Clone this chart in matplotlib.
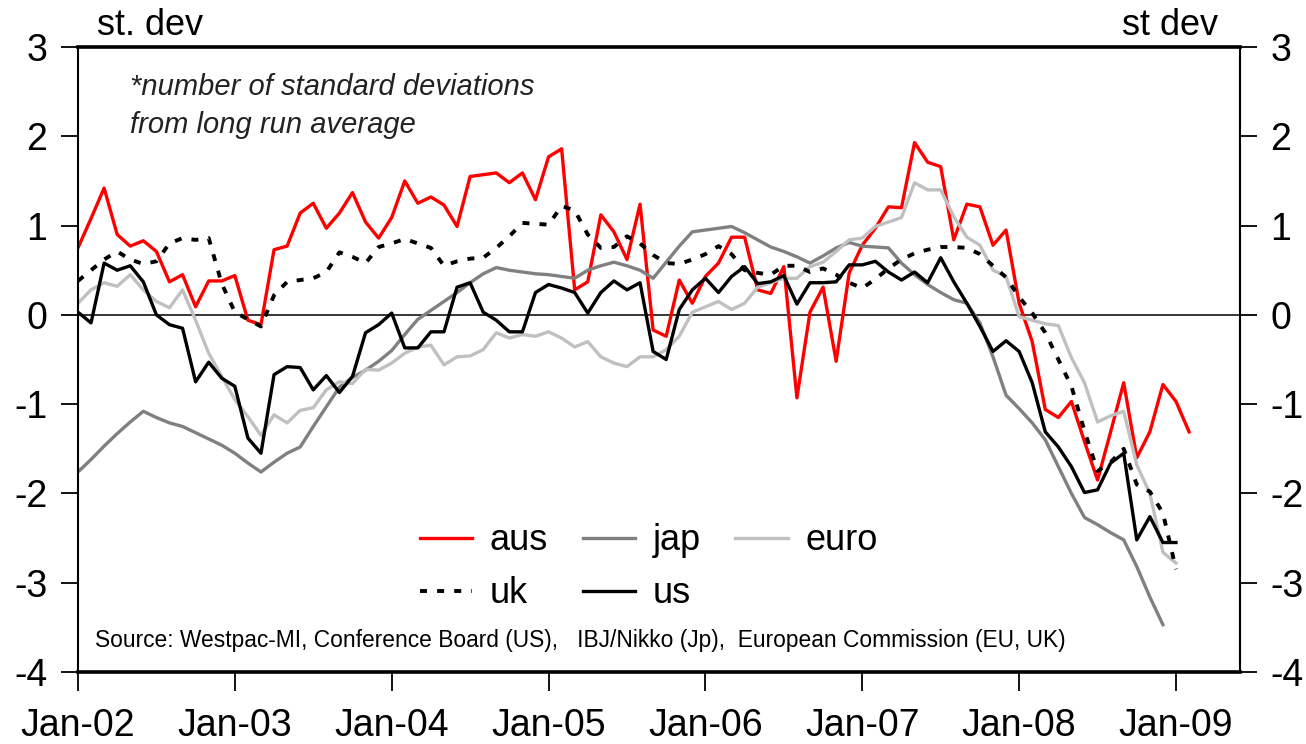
import matplotlib
matplotlib.use("Agg")
import matplotlib.pyplot as plt
import numpy as np

plt.rcParams['font.family'] = ['Liberation Sans', 'DejaVu Sans']
plt.rcParams['axes.unicode_minus'] = False

# month index 0 = Jan-02
aus = [0.75, 1.08, 1.42, 0.90, 0.77, 0.83, 0.71, 0.37, 0.45, 0.09,
       0.38, 0.38, 0.44, -0.06, -0.11, 0.73, 0.77, 1.14, 1.25, 0.97,
       1.14, 1.37, 1.04, 0.86, 1.09, 1.50, 1.25, 1.32, 1.23, 0.99,
       1.55, 1.57, 1.59, 1.48, 1.59, 1.29, 1.77, 1.86, 0.28, 0.37,
       1.12, 0.93, 0.62, 1.24, -0.17, -0.24, 0.39, 0.13, 0.43, 0.58,
       0.87, 0.87, 0.28, 0.24, 0.54, -0.93, 0.03, 0.31, -0.52, 0.47,
       0.78, 0.97, 1.21, 1.20, 1.93, 1.71, 1.66, 0.84, 1.24, 1.21,
       0.78, 0.95, 0.13, -0.30, -1.06, -1.15, -0.97, -1.42, -1.85, -1.31,
       -0.76, -1.60, -1.31, -0.78, -0.97, -1.31]

jap = [-1.76, -1.62, -1.47, -1.33, -1.20, -1.08, -1.15, -1.21, -1.25, -1.32,
       -1.39, -1.46, -1.55, -1.66, -1.76, -1.65, -1.55, -1.48, -1.25, -1.03,
       -0.81, -0.70, -0.62, -0.52, -0.40, -0.22, -0.05, 0.05, 0.15, 0.25,
       0.36, 0.46, 0.53, 0.50, 0.48, 0.46, 0.45, 0.43, 0.41, 0.50,
       0.55, 0.59, 0.55, 0.50, 0.41, 0.59, 0.77, 0.93, 0.95, 0.97,
       0.99, 0.92, 0.84, 0.76, 0.71, 0.65, 0.58, 0.66, 0.75, 0.81,
       0.77, 0.76, 0.75, 0.58, 0.45, 0.34, 0.25, 0.17, 0.13, -0.09,
       -0.47, -0.90, -1.05, -1.21, -1.40, -1.70, -2.00, -2.27, -2.35, -2.44,
       -2.52, -2.82, -3.16, -3.47]

euro = [0.13, 0.28, 0.36, 0.32, 0.45, 0.28, 0.15, 0.08, 0.28, -0.06,
        -0.43, -0.69, -0.95, -1.14, -1.35, -1.12, -1.21, -1.07, -1.04, -0.84,
        -0.75, -0.77, -0.61, -0.62, -0.54, -0.43, -0.36, -0.34, -0.56, -0.47,
        -0.46, -0.39, -0.20, -0.26, -0.22, -0.24, -0.19, -0.26, -0.36, -0.30,
        -0.47, -0.54, -0.58, -0.47, -0.47, -0.39, -0.24, 0.03, 0.09, 0.15,
        0.06, 0.13, 0.31, 0.36, 0.41, 0.41, 0.54, 0.59, 0.71, 0.84,
        0.86, 0.99, 1.04, 1.09, 1.48, 1.40, 1.40, 1.10, 0.87, 0.78,
        0.50, 0.43, -0.02, -0.06, -0.10, -0.12, -0.48, -0.76, -1.20, -1.13,
        -1.08, -1.68, -2.00, -2.66, -2.78]

uk = [0.38, 0.50, 0.62, 0.71, 0.62, 0.57, 0.60, 0.80, 0.86, 0.84,
      0.86, 0.35, 0.03, -0.05, -0.13, 0.22, 0.37, 0.39, 0.41, 0.48,
      0.70, 0.65, 0.58, 0.76, 0.80, 0.85, 0.80, 0.75, 0.55, 0.60,
      0.63, 0.64, 0.75, 0.88, 1.03, 1.02, 1.01, 1.22, 1.17, 0.90,
      0.75, 0.76, 0.88, 0.80, 0.67, 0.58, 0.57, 0.62, 0.68, 0.77,
      0.68, 0.50, 0.47, 0.45, 0.55, 0.55, 0.48, 0.52, 0.45, 0.36,
      0.30, 0.40, 0.52, 0.62, 0.69, 0.73, 0.76, 0.76, 0.75, 0.68,
      0.55, 0.42, 0.20, 0.02, -0.20, -0.50, -0.80, -1.30, -1.75, -1.65,
      -1.50, -1.90, -1.98, -2.22, -2.85]

us = [0.03, -0.09, 0.58, 0.50, 0.55, 0.37, 0.00, -0.11, -0.15, -0.75,
      -0.53, -0.71, -0.80, -1.38, -1.55, -0.67, -0.58, -0.59, -0.84, -0.68,
      -0.87, -0.69, -0.20, -0.11, 0.02, -0.37, -0.37, -0.19, -0.19, 0.31,
      0.36, 0.03, -0.06, -0.19, -0.19, 0.25, 0.34, 0.30, 0.25, 0.02,
      0.25, 0.38, 0.28, 0.36, -0.41, -0.50, 0.06, 0.28, 0.41, 0.25,
      0.43, 0.54, 0.35, 0.37, 0.44, 0.12, 0.36, 0.36, 0.37, 0.56,
      0.56, 0.60, 0.48, 0.39, 0.48, 0.36, 0.64, 0.37, 0.13, -0.13,
      -0.41, -0.29, -0.41, -0.76, -1.31, -1.48, -1.70, -1.99, -1.96, -1.66,
      -1.55, -2.52, -2.26, -2.55, -2.55]

tick_labels = ['Jan-02', 'Jan-03', 'Jan-04', 'Jan-05', 'Jan-06', 'Jan-07', 'Jan-08', 'Jan-09']

fig = plt.figure(figsize=(13.06, 7.44), dpi=100)
ax = fig.add_axes([0.0597, 0.0968, 0.8898, 0.84])

l_aus, = ax.plot(np.arange(len(aus)), aus, color='#ff0000', lw=2.4, label='aus')
l_jap, = ax.plot(np.arange(len(jap)), jap, color='#808080', lw=2.4, label='jap')
l_euro, = ax.plot(np.arange(len(euro)), euro, color='#c0c0c0', lw=2.4, label='euro')
l_uk, = ax.plot(np.arange(len(uk)), uk, color='black', lw=2.8, ls=(0, (1.8, 2.6)),
                dash_capstyle='butt', label='uk')
l_us, = ax.plot(np.arange(len(us)), us, color='black', lw=2.4, label='us')

ax.axhline(0, color='black', lw=1.1, zorder=1)

ax.set_xlim(0, 88.9)
ax.set_ylim(-4, 3)
ax.set_xticks(np.arange(0, 85, 12))
ax.set_xticklabels(tick_labels)
ax.set_yticks(range(-4, 4))
ax.tick_params(axis='x', direction='out', length=14, width=1.3, pad=12, labelsize=27)
ax.tick_params(axis='y', direction='out', length=12, width=1.3, pad=10, labelsize=27)
for s in ['left', 'right']:
    ax.spines[s].set_linewidth(1.5)
for s in ['top', 'bottom']:
    ax.spines[s].set_linewidth(2.6)

ax2 = ax.twinx()
ax2.set_ylim(-4, 3)
ax2.set_yticks(range(-4, 4))
ax2.tick_params(axis='y', direction='out', length=12, width=1.3, pad=10, labelsize=27)
for s in ax2.spines.values():
    s.set_visible(False)

fig.text(0.074, 0.966, 'st. dev', fontsize=26, va='center', ha='left')
fig.text(0.933, 0.966, 'st dev', fontsize=26, va='center', ha='right')

ax.text(0.045, 0.958, '*number of standard deviations\nfrom long run average',
        transform=ax.transAxes, fontsize=21, style='italic', va='top',
        ha='left', linespacing=1.45, color='#222222')
ax.text(0.0146, 0.051, 'Source: Westpac-MI, Conference Board (US),   IBJ/Nikko (Jp),  '
        'European Commission (EU, UK)', transform=ax.transAxes, fontsize=16.4,
        va='center', ha='left')

# column-major fill: row 1 = aus, jap, euro ; row 2 = uk, us
ax.legend([l_aus, l_uk, l_jap, l_us, l_euro], ['aus', 'uk', 'jap', 'us', 'euro'],
          loc='upper left', bbox_to_anchor=(0.266, 0.29), ncol=3, frameon=False,
          fontsize=26, handlelength=1.45, handletextpad=0.5, columnspacing=0.95,
          labelspacing=0.5)

fig.savefig('out.png', dpi=100)
